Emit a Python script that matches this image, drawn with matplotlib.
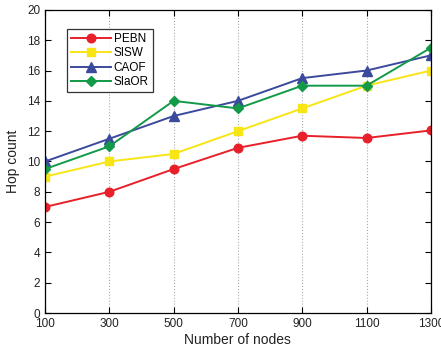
import matplotlib
matplotlib.use("Agg")
import matplotlib.pyplot as plt

plt.rcParams['font.family'] = ['Liberation Sans', 'DejaVu Sans']

nodes = [100, 300, 500, 700, 900, 1100, 1300]
pebn = [7, 8, 9.5, 10.9, 11.7, 11.55, 12.05]
sisw = [9, 10, 10.5, 12, 13.5, 15, 16]
caof = [10, 11.5, 13, 14, 15.5, 16, 17]
siaor = [9.5, 11, 14, 13.5, 15, 15, 17.5]

fig = plt.figure(figsize=(4.41, 3.53), dpi=100)
ax = fig.add_axes([0.102, 0.113, 0.875, 0.859])

ax.plot(nodes, pebn, color='#e8202a', marker='o', ms=6.2, lw=1.4, label='PEBN')
ax.plot(nodes, sisw, color='#f7e514', marker='s', ms=5.5, lw=1.4, label='SISW')
ax.plot(nodes, caof, color='#3b4a9c', marker='^', ms=7, lw=1.4, label='CAOF')
ax.plot(nodes, siaor, color='#129a48', marker='D', ms=5.3, lw=1.4, label='SIaOR')

ax.set_xlim(100, 1300)
ax.set_ylim(0, 20)
ax.set_xticks(nodes)
ax.set_yticks(range(0, 21, 2))
ax.grid(axis='x', linestyle=':', color='#aaaaaa', lw=0.8)
ax.tick_params(direction='in', labelsize=8.5, top=True, right=True, length=4,
               labelcolor='#222222')
for s in ax.spines.values():
    s.set_linewidth(0.9)

ax.set_xlabel('Number of nodes', fontsize=10, labelpad=2, color='#222222')
ax.set_ylabel('Hop count', fontsize=10, labelpad=5, color='#222222')

leg = ax.legend(loc='upper left', bbox_to_anchor=(0.057, 0.937), fancybox=False,
                edgecolor='black', fontsize=8.5, handlelength=3.4,
                borderpad=0.35, labelspacing=0.2, handletextpad=0.2,
                borderaxespad=0)
leg.get_frame().set_linewidth(0.9)

fig.savefig('out.png', dpi=100)
